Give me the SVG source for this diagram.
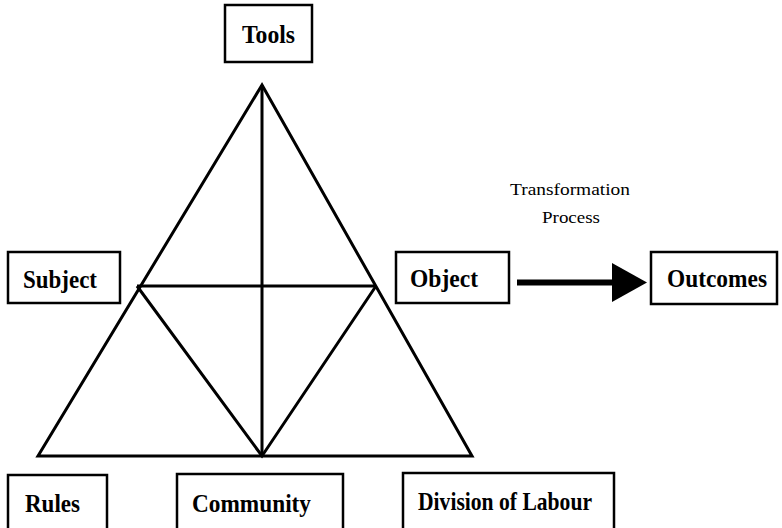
<svg xmlns="http://www.w3.org/2000/svg" width="782" height="528" viewBox="0 0 782 528">
<style>
.box{fill:#fff;stroke:#000;stroke-width:2.5}
.lbl{font-family:"Liberation Serif","Times New Roman",serif;font-weight:bold;font-size:26px;fill:#000}
.sm{font-family:"Liberation Serif","Times New Roman",serif;font-size:17px;fill:#000}
.ln{stroke:#000;stroke-width:3;fill:none;stroke-linejoin:miter}
</style>
<rect width="782" height="528" fill="#fff"/>
<g id="connectors">
<polygon class="ln" points="262,85 38,456 472,456"/>
<line class="ln" x1="262" y1="85" x2="262" y2="456"/>
<line class="ln" x1="137" y1="286" x2="376" y2="286"/>
<polyline class="ln" points="137,286 262,456 376,286"/>
<line x1="517" y1="282.5" x2="615" y2="282.5" stroke="#000" stroke-width="6"/>
<polygon points="612,263 647,282.5 612,302" fill="#000"/>
</g>
<g id="tools"><rect class="box" x="225" y="5" width="87" height="57"/><text class="lbl" x="242" y="43" textLength="53" lengthAdjust="spacingAndGlyphs">Tools</text></g>
<g id="subject"><rect class="box" x="8" y="252" width="112" height="51"/><text class="lbl" x="23" y="288" textLength="74" lengthAdjust="spacingAndGlyphs">Subject</text></g>
<g id="object"><rect class="box" x="396" y="252" width="113" height="51"/><text class="lbl" x="410" y="287" textLength="68" lengthAdjust="spacingAndGlyphs">Object</text></g>
<g id="outcomes"><rect class="box" x="651" y="252" width="126" height="52"/><text class="lbl" x="667" y="287" textLength="100" lengthAdjust="spacingAndGlyphs">Outcomes</text></g>
<g id="rules"><rect class="box" x="8" y="475" width="99" height="60"/><text class="lbl" x="25" y="512" textLength="55" lengthAdjust="spacingAndGlyphs">Rules</text></g>
<g id="community"><rect class="box" x="177" y="474" width="166" height="60"/><text class="lbl" x="192" y="512" textLength="119" lengthAdjust="spacingAndGlyphs">Community</text></g>
<g id="division"><rect class="box" x="403" y="473" width="211" height="60"/><text class="lbl" x="418" y="510" textLength="174" lengthAdjust="spacingAndGlyphs">Division of Labour</text></g>
<g id="transformation"><text class="sm" x="510" y="195" textLength="120" lengthAdjust="spacingAndGlyphs">Transformation</text><text class="sm" x="542" y="223" textLength="58" lengthAdjust="spacingAndGlyphs">Process</text></g>
</svg>
